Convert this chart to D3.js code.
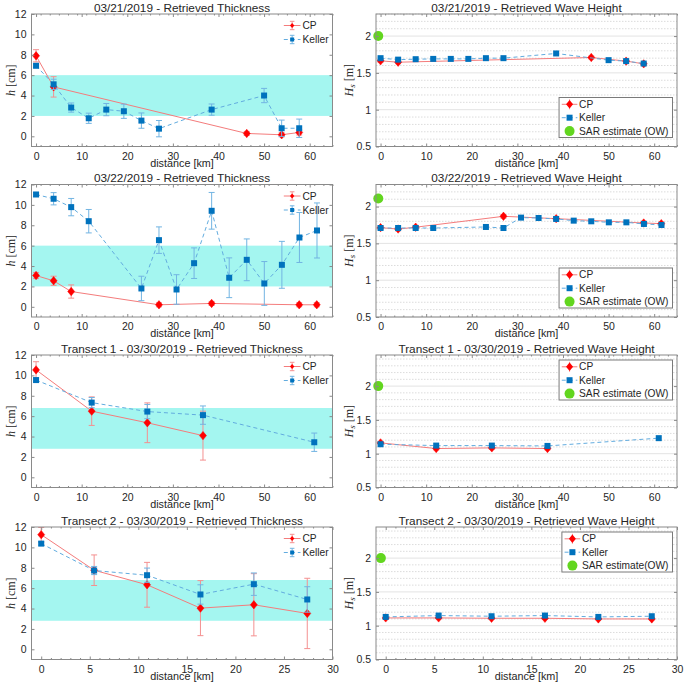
<!DOCTYPE html>
<html lang="en">
<head>
<meta charset="UTF-8">
<title>Retrieved Thickness and Wave Height</title>
<script src="https://cdn.jsdelivr.net/npm/d3@7"></script>
<style>
    body { margin: 0; background: #ffffff; }
    text { font-family: "Liberation Sans", Arial, sans-serif; fill: #262626; }
</style>
</head>
<body>
<script>
// ---------- tick labels ----------
var xTicks65 = [0, 10, 20, 30, 40, 50, 60];
var xTicks30 = [0, 5, 10, 15, 20, 25, 30];
var hTicks = [0, 2, 4, 6, 8, 10, 12];
var hsTicks = [0.5, 1, 1.5, 2];

// ---------- thickness bands (cm) ----------
var bandMarch = [2, 6];
var bandTransect = [2.8, 6.8];

// ---------- 03/21/2019 ----------
var cp21x = [0, 3.85, 46.2, 53.85, 57.7];
var cp21h = [7.9, 4.85, 0.28, 0.15, 0.38];
var cp21hErr = [0.6, 1.0, 0.2, 0.2, 0.25];
var cp21hs = [1.664, 1.645, 1.709, 1.66, 1.623];
var cp21hsErr = [0.02, 0.02, 0.02, 0.02, 0.02];
var kel21x = [0, 3.85, 7.7, 11.55, 15.4, 19.25, 23.1, 26.95, 38.5, 50.0, 53.85, 57.7];
var kel21h = [6.92, 5.1, 2.82, 1.77, 2.62, 2.46, 1.54, 0.75, 2.62, 4.0, 0.79, 0.79];
var kel21hErr = [0.15, 0.5, 0.45, 0.5, 0.6, 0.7, 0.75, 0.8, 0.55, 0.7, 0.8, 0.9];
var kel21hs = [1.70, 1.68, 1.686, 1.69, 1.69, 1.69, 1.70, 1.70, 1.764, 1.673, 1.66, 1.627];
var sar21 = 2.0;

// ---------- 03/22/2019 ----------
var cp22x = [0, 3.85, 7.7, 26.95, 38.5, 57.7, 61.55];
var cp22h = [3.07, 2.55, 1.5, 0.2, 0.33, 0.2, 0.2];
var cp22hErr = [0.3, 0.45, 0.65, 0.2, 0.2, 0.2, 0.2];
var cp22hs = [1.714, 1.695, 1.72, 1.868, 1.836, 1.777, 1.768];
var cp22hsErr = [0.025, 0.025, 0.025, 0.025, 0.025, 0.025, 0.025];
var kel22x = [0, 3.85, 7.7, 11.55, 23.1, 26.95, 30.8, 34.65, 38.5, 42.35, 46.2, 50.05, 53.9, 57.75, 61.6];
var kel22h = [11.02, 10.6, 9.78, 8.4, 1.8, 6.54, 1.7, 4.28, 9.42, 2.85, 4.61, 2.29, 4.12, 6.8, 7.49];
var kel22hErr = [0.2, 0.6, 0.85, 1.15, 1.2, 1.3, 1.45, 1.5, 1.8, 1.95, 2.05, 2.15, 2.3, 2.45, 2.7];
var kel22hs = [1.709, 1.709, 1.709, 1.709, 1.723, 1.709, 1.85, 1.845, 1.832, 1.809, 1.80, 1.786, 1.786, 1.764, 1.75];
var sar22 = 2.11;

// ---------- Transect 1 - 03/30/2019 ----------
var cpT1x = [0, 12.2, 24.4, 36.6];
var cpT1h = [10.54, 6.49, 5.35, 4.09];
var cpT1hErr = [0.8, 1.4, 1.95, 2.4];
var cpT1hs = [1.16, 1.076, 1.086, 1.076];
var cpT1hsErr = [0.02, 0.02, 0.02, 0.02];
var kelT1x = [0, 12.2, 24.4, 36.6, 61.0];
var kelT1h = [9.54, 7.33, 6.45, 6.1, 3.44];
var kelT1hErr = [0.2, 0.5, 0.7, 0.9, 0.9];
var kelT1hs = [1.14, 1.12, 1.12, 1.115, 1.23];
var sarT1 = 2.0;

// ---------- Transect 2 - 03/30/2019 ----------
var cpT2x = [0, 5.45, 10.9, 16.4, 21.9, 27.4];
var cpT2h = [11.25, 7.76, 6.33, 4.04, 4.37, 3.52];
var cpT2hErr = [0.7, 1.5, 2.2, 2.7, 3.05, 3.45];
var cpT2hs = [1.115, 1.115, 1.11, 1.11, 1.10, 1.10];
var cpT2hsErr = [0.015, 0.015, 0.015, 0.015, 0.015, 0.015];
var kelT2x = [0, 5.45, 10.9, 16.4, 21.9, 27.4];
var kelT2h = [10.37, 7.73, 7.27, 5.38, 6.39, 4.89];
var kelT2hErr = [0.15, 0.4, 0.7, 0.95, 1.1, 1.25];
var kelT2hs = [1.13, 1.15, 1.14, 1.15, 1.13, 1.14];
var sarT2 = 2.0;

var panels = [
    {title: "03/21/2019 - Retrieved Thickness", kind: "h", xDomain: [-1, 65], xTicks: xTicks65, minorStep: 2,
     band: bandMarch, cpX: cp21x, cpY: cp21h, cpE: cp21hErr, kX: kel21x, kY: kel21h, kE: kel21hErr},
    {title: "03/21/2019 - Retrieved Wave Height", kind: "hs", xDomain: [-1, 65], xTicks: xTicks65, minorStep: 2,
     yDomain: [0.5, 2.3], cpX: cp21x, cpY: cp21hs, cpE: cp21hsErr, kX: kel21x, kY: kel21hs,
     sar: sar21, sarLabel: "SAR estimate (OW)", legend: "bottom"},
    {title: "03/22/2019 - Retrieved Thickness", kind: "h", xDomain: [-1, 65], xTicks: xTicks65, minorStep: 2,
     band: bandMarch, cpX: cp22x, cpY: cp22h, cpE: cp22hErr, kX: kel22x, kY: kel22h, kE: kel22hErr},
    {title: "03/22/2019 - Retrieved Wave Height", kind: "hs", xDomain: [-1, 65], xTicks: xTicks65, minorStep: 2,
     yDomain: [0.5, 2.3], cpX: cp22x, cpY: cp22hs, cpE: cp22hsErr, kX: kel22x, kY: kel22hs,
     sar: sar22, sarLabel: "SAR estimate (OW)", legend: "bottom"},
    {title: "Transect 1 - 03/30/2019 - Retrieved Thickness", kind: "h", xDomain: [-1, 65], xTicks: xTicks65, minorStep: 2,
     band: bandTransect, cpX: cpT1x, cpY: cpT1h, cpE: cpT1hErr, kX: kelT1x, kY: kelT1h, kE: kelT1hErr},
    {title: "Transect 1 - 03/30/2019 - Retrieved Wave Height", kind: "hs", xDomain: [-1, 65], xTicks: xTicks65, minorStep: 2,
     yDomain: [0.5, 2.46], cpX: cpT1x, cpY: cpT1hs, cpE: cpT1hsErr, kX: kelT1x, kY: kelT1hs,
     sar: sarT1, sarLabel: "SAR estimate (OW)", legend: "top"},
    {title: "Transect 2 - 03/30/2019 - Retrieved Thickness", kind: "h", xDomain: [-1, 30], xTicks: xTicks30, minorStep: 1,
     band: bandTransect, cpX: cpT2x, cpY: cpT2h, cpE: cpT2hErr, kX: kelT2x, kY: kelT2h, kE: kelT2hErr},
    {title: "Transect 2 - 03/30/2019 - Retrieved Wave Height", kind: "hs", xDomain: [-1, 30], xTicks: xTicks30, minorStep: 1,
     yDomain: [0.5, 2.46], cpX: kelT2x, cpY: cpT2hs, cpE: cpT2hsErr, kX: kelT2x, kY: kelT2hs,
     sar: sarT2, sarLabel: "SAR estimate(OW)", legend: "top"}
];

// ---------- layout / style ----------
var colX = [31.5, 376];
var rowY = [14, 184.5, 355, 527];
var axW = 301, axH = 132.5;

var bandColor = "#a4f6f0";
var cpColor = "#ff0000", cpLine = "#f47c7c", cpErrColor = "#f49090";
var kColor = "#0072bd", kLine = "#62acdf", kErrColor = "#72b4e2";
var sarColor = "#62d61f";
var axisColor = "#8a8a8a";

var svg = d3.select("body").append("svg")
    .attr("width", 685)
    .attr("height", 685);

function diamond(w, h) {
    return "M0," + (-h) + "L" + w + ",0L0," + h + "L" + (-w) + ",0Z";
}

function errorBars(g, xs, ys, es, x, y, color, cap) {
    var pts = xs.map(function (v, i) { return {x: v, y: ys[i], e: es[i]}; });
    g.append("g")
        .attr("stroke", color)
        .attr("stroke-width", 1)
        .attr("fill", "none")
        .selectAll("path")
        .data(pts)
        .enter()
        .append("path")
        .attr("d", function (p) {
            var cx = x(p.x), y0 = y(p.y - p.e), y1 = y(p.y + p.e);
            return "M" + cx + "," + y0 + "V" + y1 +
                "M" + (cx - cap) + "," + y0 + "H" + (cx + cap) +
                "M" + (cx - cap) + "," + y1 + "H" + (cx + cap);
        });
}

function styleAxis(sel) {
    sel.select(".domain").remove();
    sel.selectAll(".tick line").attr("stroke", axisColor);
    sel.selectAll(".tick text")
        .attr("fill", "#262626")
        .style("font-size", "10.5px")
        .style("font-family", "'Liberation Sans', Arial, sans-serif");
}

function drawPanel(p, i) {
    var left = colX[i % 2], top = rowY[Math.floor(i / 2)];
    var right = left + axW, bottom = top + axH;
    var yDomain = p.kind === "h" ? [-1, 12] : p.yDomain;
    var yTicks = p.kind === "h" ? hTicks : hsTicks;

    var x = d3.scaleLinear().domain(p.xDomain).range([left, right]);
    var y = d3.scaleLinear().domain(yDomain).range([bottom, top]);

    var g = svg.append("g");

    // cyan band of thickness range
    if (p.band) {
        g.append("rect")
            .attr("x", left).attr("width", axW)
            .attr("y", y(p.band[1]))
            .attr("height", y(p.band[0]) - y(p.band[1]))
            .attr("fill", bandColor);
    }

    // grid for wave height
    if (p.kind === "hs") {
        var minor = d3.range(6, Math.floor(yDomain[1] * 10) + 1).map(function (k) { return k / 10; })
            .filter(function (v) { return Math.abs(v * 2 - Math.round(v * 2)) > 1e-6; });
        g.append("g").selectAll("line").data(minor).enter().append("line")
            .attr("x1", left).attr("x2", right)
            .attr("y1", function (d) { return y(d); }).attr("y2", function (d) { return y(d); })
            .attr("stroke", "#dcdcdc").attr("stroke-dasharray", "1.5,1.5");
        g.append("g").selectAll("line").data(yTicks).enter().append("line")
            .attr("x1", left).attr("x2", right)
            .attr("y1", function (d) { return y(d); }).attr("y2", function (d) { return y(d); })
            .attr("stroke", "#e3e3e3");
    }

    var line = d3.line().x(function (d) { return x(d[0]); }).y(function (d) { return y(d[1]); });

    // CP series
    errorBars(g, p.cpX, p.cpY, p.cpE, x, y, cpErrColor, 3);
    g.append("path")
        .datum(p.cpX.map(function (v, k) { return [v, p.cpY[k]]; }))
        .attr("d", line).attr("fill", "none").attr("stroke", cpLine).attr("stroke-width", 1);
    g.append("g").selectAll("path").data(p.cpX).enter().append("path")
        .attr("d", diamond(3.5, 4.2))
        .attr("transform", function (d, k) { return "translate(" + x(d) + "," + y(p.cpY[k]) + ")"; })
        .attr("fill", cpColor).attr("stroke", cpColor).attr("stroke-width", 0.5);

    // Keller series
    if (p.kE) errorBars(g, p.kX, p.kY, p.kE, x, y, kErrColor, 3);
    g.append("path")
        .datum(p.kX.map(function (v, k) { return [v, p.kY[k]]; }))
        .attr("d", line).attr("fill", "none").attr("stroke", kLine)
        .attr("stroke-width", 1).attr("stroke-dasharray", "4,3");
    g.append("g").selectAll("rect").data(p.kX).enter().append("rect")
        .attr("x", function (d) { return x(d) - 3; })
        .attr("y", function (d, k) { return y(p.kY[k]) - 3; })
        .attr("width", 6).attr("height", 6)
        .attr("fill", kColor);

    // SAR estimate
    if (p.sar !== undefined) {
        g.append("circle")
            .attr("cx", x(-0.5)).attr("cy", y(p.sar)).attr("r", 5)
            .attr("fill", sarColor);
    }

    // axes
    var minorX = d3.range(p.xDomain[0], p.xDomain[1] + 0.001, p.minorStep)
        .filter(function (v) { return v > p.xDomain[0] && p.xTicks.indexOf(v) < 0; });
    g.append("g").attr("transform", "translate(0," + bottom + ")")
        .call(d3.axisBottom(x).tickValues(p.xTicks).tickSize(-3).tickPadding(6)).call(styleAxis);
    g.append("g").attr("transform", "translate(0," + bottom + ")")
        .call(d3.axisBottom(x).tickValues(minorX).tickSize(-1.5).tickFormat("")).call(styleAxis);
    g.append("g").attr("transform", "translate(0," + top + ")")
        .call(d3.axisTop(x).tickValues(p.xTicks).tickSize(-3).tickFormat("")).call(styleAxis);
    g.append("g").attr("transform", "translate(0," + top + ")")
        .call(d3.axisTop(x).tickValues(minorX).tickSize(-1.5).tickFormat("")).call(styleAxis);
    g.append("g").attr("transform", "translate(" + left + ",0)")
        .call(d3.axisLeft(y).tickValues(yTicks).tickSize(-3).tickPadding(5).tickFormat(d3.format(""))).call(styleAxis);
    g.append("g").attr("transform", "translate(" + right + ",0)")
        .call(d3.axisRight(y).tickValues(yTicks).tickSize(-3).tickFormat("")).call(styleAxis);

    g.append("rect")
        .attr("x", left).attr("y", top).attr("width", axW).attr("height", axH)
        .attr("fill", "none").attr("stroke", axisColor).attr("stroke-width", 1);

    // title and labels
    g.append("text")
        .attr("x", (left + right) / 2).attr("y", top - 2.4)
        .attr("text-anchor", "middle")
        .style("font-size", "11.8px")
        .text(p.title);

    g.append("text")
        .attr("x", (left + right) / 2).attr("y", bottom + 20)
        .attr("text-anchor", "middle")
        .style("font-size", "10.8px")
        .text("distance [km]");

    var yl = g.append("text")
        .attr("transform", "translate(" + (left - (p.kind === "h" ? 17 : 23)) + "," + (top + axH / 2) + ") rotate(-90)")
        .attr("text-anchor", "middle")
        .style("font-family", "'Liberation Serif', 'DejaVu Serif', serif")
        .style("font-size", "12px");
    if (p.kind === "h") {
        yl.append("tspan").style("font-style", "italic").text("h");
        yl.append("tspan").text(" [cm]");
    } else {
        yl.append("tspan").style("font-style", "italic").text("H");
        yl.append("tspan").style("font-style", "italic").style("font-size", "9px").attr("dy", 2).text("s");
        yl.append("tspan").attr("dy", -2).text(" [m]");
    }

    // legends
    if (p.kind === "h") {
        var lx0 = right - 48.7, lx1 = right - 32, lcx = (lx0 + lx1) / 2;
        var lg = g.append("g");
        var r1 = top + 11.5, r2 = top + 25.5;
        lg.append("line").attr("x1", lx0).attr("x2", lx1).attr("y1", r1).attr("y2", r1).attr("stroke", cpLine);
        lg.append("path").attr("d", "M" + lcx + "," + (r1 - 4.2) + "V" + (r1 + 4.2) +
            "M" + (lcx - 2.3) + "," + (r1 - 4.2) + "H" + (lcx + 2.3) + "M" + (lcx - 2.3) + "," + (r1 + 4.2) + "H" + (lcx + 2.3))
            .attr("stroke", cpErrColor).attr("fill", "none");
        lg.append("path").attr("d", diamond(2.2, 2.6)).attr("transform", "translate(" + lcx + "," + r1 + ")").attr("fill", cpColor);
        lg.append("text").attr("x", lx1 + 2).attr("y", r1).attr("dy", "0.36em").style("font-size", "10.2px").text("CP");

        lg.append("line").attr("x1", lx0).attr("x2", lx1).attr("y1", r2).attr("y2", r2)
            .attr("stroke", kLine).attr("stroke-dasharray", "4,3");
        lg.append("path").attr("d", "M" + lcx + "," + (r2 - 4.2) + "V" + (r2 + 4.2) +
            "M" + (lcx - 2.3) + "," + (r2 - 4.2) + "H" + (lcx + 2.3) + "M" + (lcx - 2.3) + "," + (r2 + 4.2) + "H" + (lcx + 2.3))
            .attr("stroke", kErrColor).attr("fill", "none");
        lg.append("rect").attr("x", lcx - 2).attr("y", r2 - 2).attr("width", 4).attr("height", 4).attr("fill", kColor);
        lg.append("text").attr("x", lx1 + 2).attr("y", r2).attr("dy", "0.36em").style("font-size", "10.2px").text("Keller");
    } else {
        var labels = ["CP", "Keller", p.sarLabel];
        var lgw = g.append("g");
        var box = lgw.append("rect").attr("fill", "#ffffff").attr("stroke", "#7a7a7a").attr("stroke-width", 1);
        var texts = lgw.selectAll("text.lab").data(labels).enter().append("text")
            .attr("class", "lab").style("font-size", "10.2px").text(function (d) { return d; });
        var tw = d3.max(texts.nodes(), function (n) { return n.getComputedTextLength(); });
        var bw = 20 + tw + 4, bh = 40;
        var L = right - 4.5 - bw;
        var T = p.legend === "top" ? top + 5 : bottom - 9 - bh;
        box.attr("x", L).attr("y", T).attr("width", bw).attr("height", bh);
        var rows = [T + 6.8, T + 20.2, T + 33.6];
        texts.attr("x", L + 20).attr("y", function (d, k) { return rows[k]; }).attr("dy", "0.36em");
        var sx0 = L + 2.7, sx1 = L + 18.3, scx = L + 10.5;
        lgw.append("line").attr("x1", sx0).attr("x2", sx1).attr("y1", rows[0]).attr("y2", rows[0]).attr("stroke", cpLine);
        lgw.append("path").attr("d", "M" + scx + "," + (rows[0] - 5) + "V" + (rows[0] + 5)).attr("stroke", cpErrColor);
        lgw.append("path").attr("d", diamond(3.5, 4.2)).attr("transform", "translate(" + scx + "," + rows[0] + ")").attr("fill", cpColor);
        lgw.append("line").attr("x1", sx0).attr("x2", sx1).attr("y1", rows[1]).attr("y2", rows[1])
            .attr("stroke", kLine).attr("stroke-dasharray", "4,3");
        lgw.append("rect").attr("x", scx - 3).attr("y", rows[1] - 3).attr("width", 6).attr("height", 6).attr("fill", kColor);
        lgw.append("circle").attr("cx", scx).attr("cy", rows[2]).attr("r", 5).attr("fill", sarColor);
    }
}

panels.forEach(drawPanel);
</script>
</body>
</html>
